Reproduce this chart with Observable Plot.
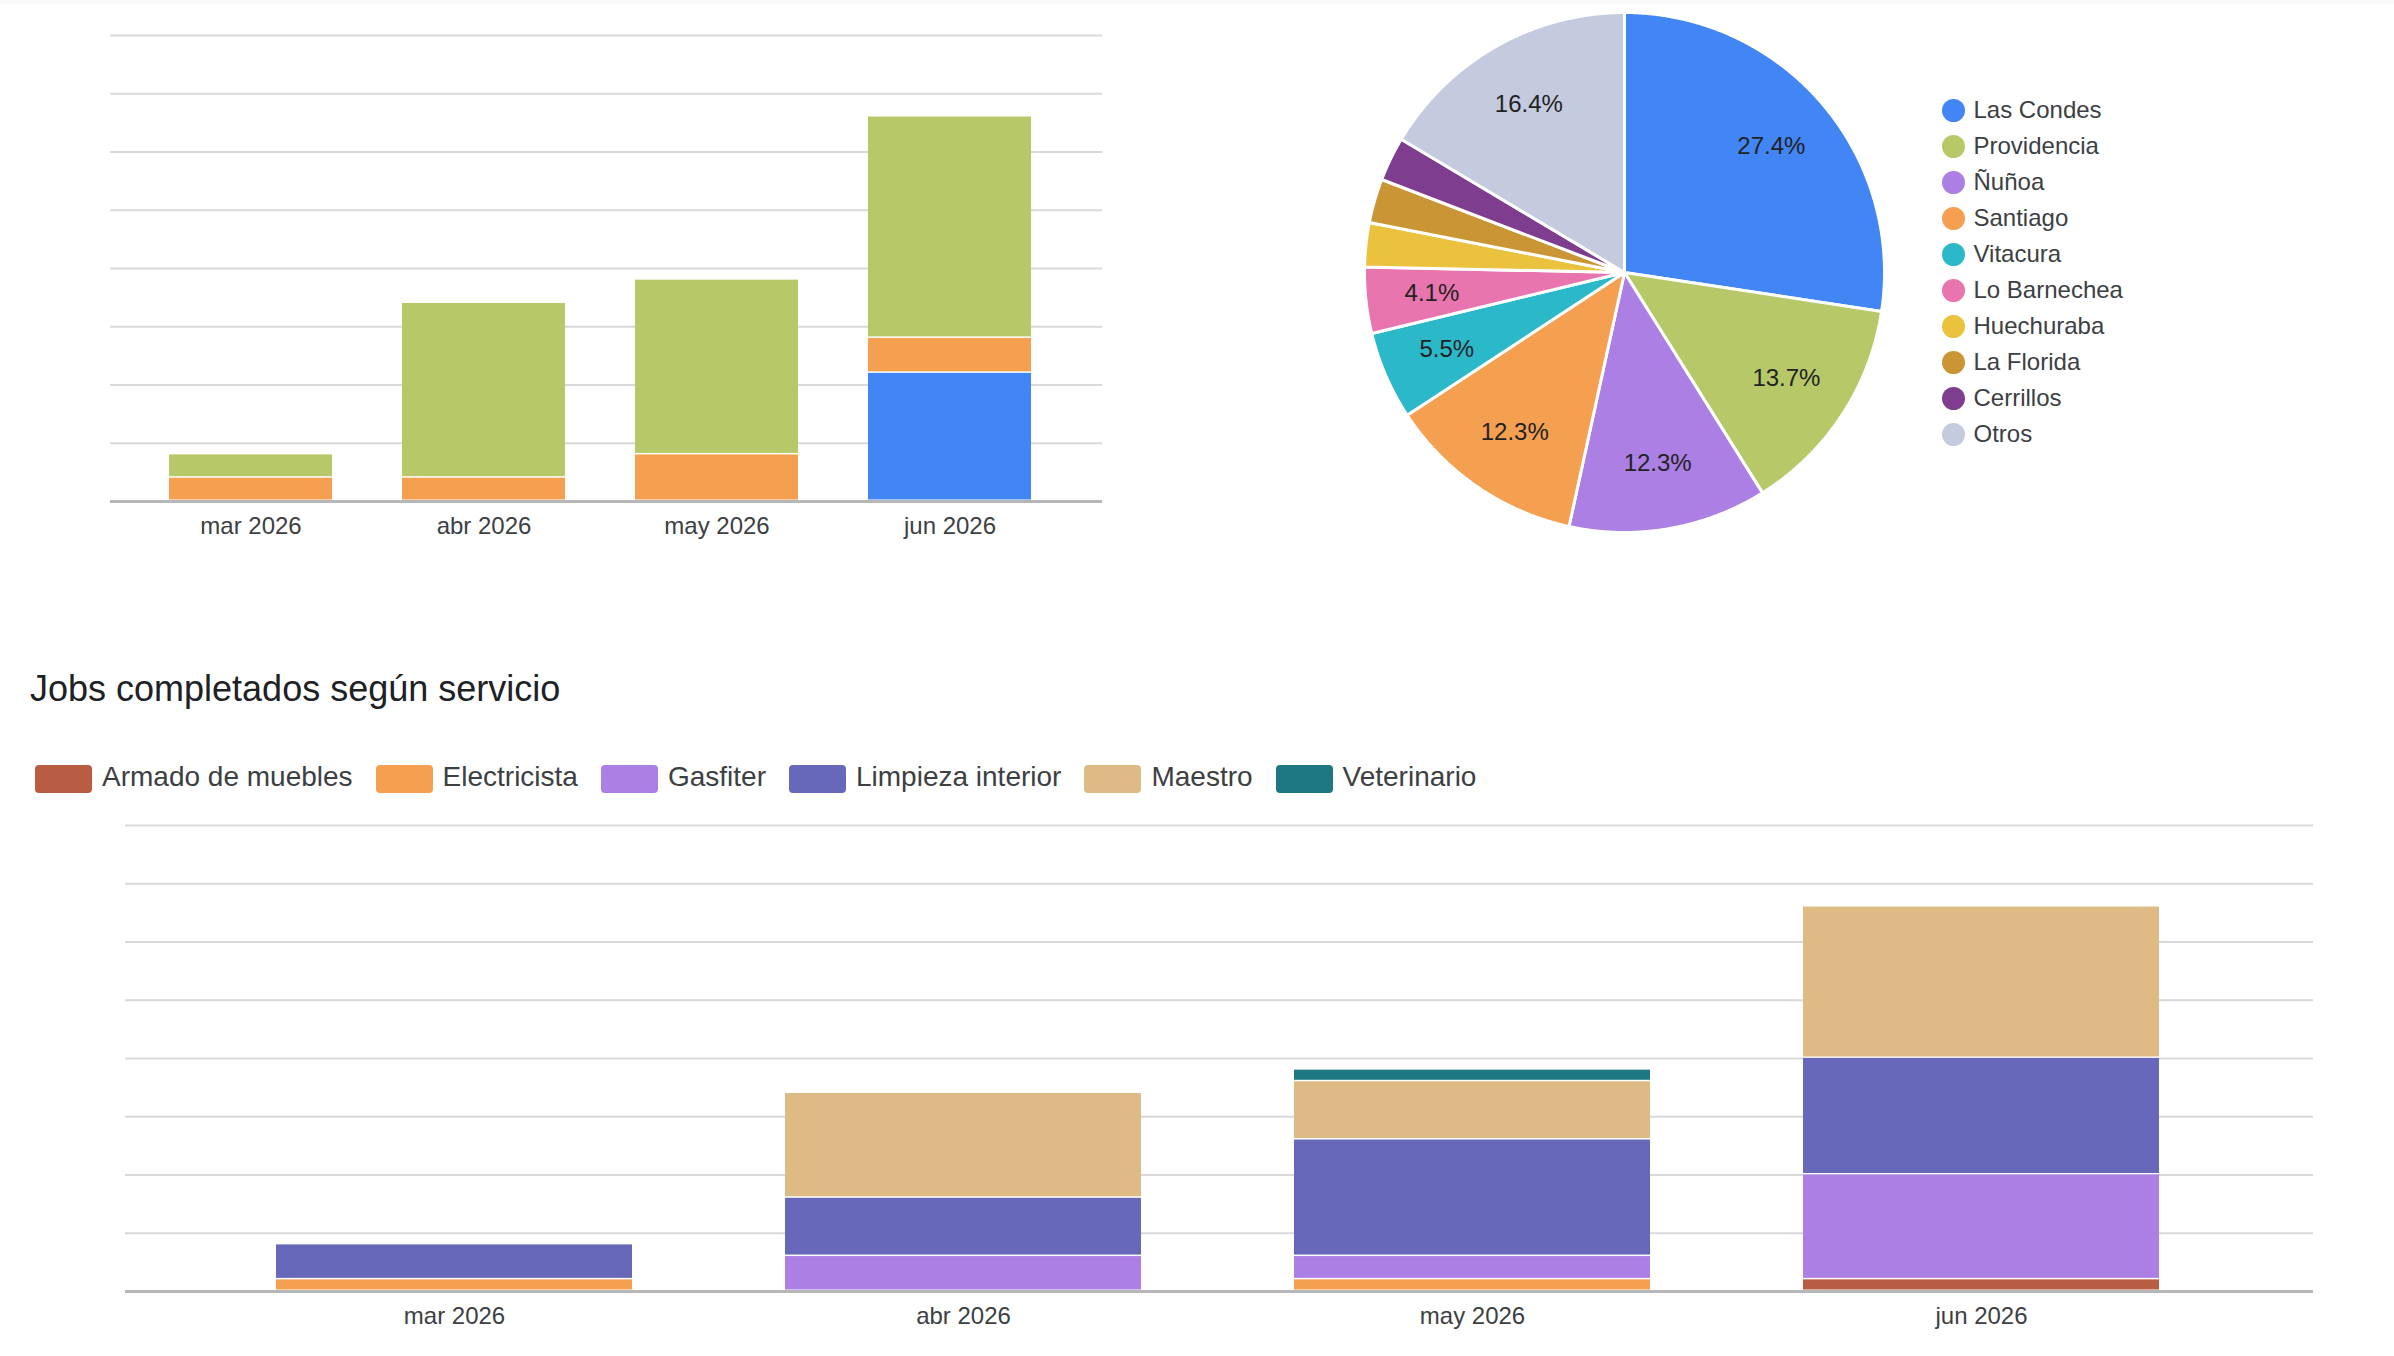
<!DOCTYPE html>
<html>
<head>
<meta charset="utf-8">
<script src="https://cdn.jsdelivr.net/npm/d3@7"></script>
<script src="https://cdn.jsdelivr.net/npm/@observablehq/plot@0.6"></script>
<style>
  html, body { margin: 0; padding: 0; background: #fff; }
  body { width: 2394px; height: 1356px; position: relative; overflow: hidden;
         font-family: "Liberation Sans", Arial, sans-serif; }
  #strip { position: absolute; left: 0; top: 0; width: 2394px; height: 4px; background: #f8f9fa; }
  .box { position: absolute; }
  .box svg { overflow: visible; }
  #title { position: absolute; left: 30px; top: 671px; font-size: 36px; line-height: 36px; color: #202124; white-space: nowrap; }
  #legend2 { position: absolute; left: 35px; top: 765px; }
  #legend2 .svc-swatches { margin: 0; min-height: 0; display: flex; flex-wrap: nowrap; align-items: flex-start; }
  #legend2 .svc-swatch { display: inline-flex; align-items: flex-start; margin-right: 23px; line-height: 24px; white-space: nowrap; }
  #legend2 .svc-swatch > svg { margin-right: 10px; }
  #legend2 .svc-swatch rect { rx: 4px; ry: 4px; }
</style>
</head>
<body>
<div id="strip"></div>
<div id="bars1" class="box" style="left:0;top:0"></div>
<div id="pie" class="box" style="left:1354px;top:2px"></div>
<div id="pieLegend" class="box" style="left:1941px;top:92px"></div>
<div id="title">Jobs completados según servicio</div>
<div id="legend2"></div>
<div id="bars2" class="box" style="left:0;top:800px"></div>
<script>
// ---- shared ----
const meses = ["mar 2026", "abr 2026", "may 2026", "jun 2026"];
const yTicks = [5, 10, 15, 20, 25, 30, 35, 40];
const yMax = 40;

// ---- top stacked bars ----
const topSeries = ["Grupo 1", "Grupo 2", "Grupo 3"];
const topColors = ["#4285F4", "#F4A050", "#B6C867"];
const grupo1 = [0, 0, 0, 11];
const grupo2 = [2, 2, 4, 3];
const grupo3 = [2, 15, 15, 19];

// ---- pie: jobs por comuna ----
const comunas = ["Las Condes", "Providencia", "Ñuñoa", "Santiago", "Vitacura",
                 "Lo Barnechea", "Huechuraba", "La Florida", "Cerrillos", "Otros"];
const comunaJobs = [20, 10, 9, 9, 4, 3, 2, 2, 2, 12];
const comunaColors = ["#4285F4", "#B6C867", "#AC7FE5", "#F4A050", "#2BB8C9",
                      "#E875AE", "#EAC23D", "#CA9535", "#7E3D8E", "#C5CBDF"];

// ---- bottom stacked bars: jobs completados según servicio ----
const servicios = ["Armado de muebles", "Electricista", "Gasfiter", "Limpieza interior", "Maestro", "Veterinario"];
const servicioColors = ["#B85C43", "#F4A050", "#AC7FE5", "#6868BA", "#DEBB84", "#1E7883"];
const armado = [0, 0, 0, 1];
const electricista = [1, 0, 1, 0];
const gasfiter = [0, 3, 2, 9];
const limpieza = [3, 5, 10, 10];
const maestro = [0, 9, 5, 13];
const veterinario = [0, 0, 1, 0];

const FONT = '"Liberation Sans", Arial, sans-serif';
const GRID = "#d9d9d9";
const BASE = "#b7b7b7";
const TEXT = "#3c4043";

function toRows(names, valueArrays) {
  const rows = [];
  names.forEach((s, i) => meses.forEach((m, j) => {
    const v = valueArrays[i][j];
    if (v > 0) rows.push({mes: m, serie: s, n: v});
  }));
  return rows;
}

function stackedBars({rows, names, colors, width, height, marginLeft, marginRight, marginTop, marginBottom, insetLeft, insetRight, tickPadding}) {
  return Plot.plot({
    width, height, marginLeft, marginRight, marginTop, marginBottom,
    style: {fontFamily: FONT, fontSize: "24px", color: TEXT, background: "transparent"},
    x: {type: "band", domain: meses, paddingInner: 0.3, paddingOuter: 0.15,
        insetLeft, insetRight, tickSize: 0, tickPadding, label: null},
    y: {domain: [0, yMax], axis: null},
    color: {domain: names, range: colors},
    marks: [
      Plot.ruleY(yTicks, {stroke: GRID, strokeWidth: 2}),
      Plot.barY(rows, {x: "mes", y: "n", fill: "serie", insetTop: 0, insetBottom: 1.5}),
      Plot.ruleY([0], {stroke: BASE, strokeWidth: 3})
    ]
  });
}

document.getElementById("bars1").append(stackedBars({
  rows: toRows(topSeries, [grupo1, grupo2, grupo3]),
  names: topSeries, colors: topColors,
  width: 1150, height: 560, marginLeft: 110, marginRight: 48, marginTop: 35, marginBottom: 59,
  insetLeft: 23.5, insetRight: 34.5, tickPadding: 15
}));

document.getElementById("bars2").append(stackedBars({
  rows: toRows(servicios, [armado, electricista, gasfiter, limpieza, maestro, veterinario]),
  names: servicios, colors: servicioColors,
  width: 2394, height: 556, marginLeft: 125, marginRight: 81, marginTop: 25, marginBottom: 65,
  insetLeft: 74, insetRight: 76, tickPadding: 15
}));

// ---- pie ----
const comunaRows = comunas.map((name, i) => ({name, n: comunaJobs[i]}));
const total = d3.sum(comunaJobs);
const arcs = d3.pie().sort(null).value(d => d.n)(comunaRows);
const slicePts = [];
const sliceLabels = [];
for (const a of arcs) {
  const name = a.data.name;
  slicePts.push({name, x: 0, y: 0});
  const steps = Math.max(2, Math.ceil((a.endAngle - a.startAngle) / 0.005));
  for (let k = 0; k <= steps; k++) {
    const t = a.startAngle + (a.endAngle - a.startAngle) * k / steps;
    slicePts.push({name, x: Math.sin(t), y: Math.cos(t)});
  }
  slicePts.push({name, x: 0, y: 0});
  const share = a.data.n / total;
  if (share >= 0.04) {
    const mid = (a.startAngle + a.endAngle) / 2;
    sliceLabels.push({x: 0.745 * Math.sin(mid), y: 0.745 * Math.cos(mid), label: d3.format(".1%")(share)});
  }
}

document.getElementById("pie").append(Plot.plot({
  width: 540, height: 540, marginLeft: 10, marginRight: 10, marginTop: 10, marginBottom: 10,
  style: {fontFamily: FONT, background: "transparent"},
  x: {domain: [-1, 1], axis: null},
  y: {domain: [-1, 1], axis: null},
  color: {domain: comunas, range: comunaColors},
  marks: [
    Plot.line(slicePts, {x: "x", y: "y", z: "name", fill: "name", stroke: "#fff", strokeWidth: 3, strokeLinejoin: "round"}),
    Plot.text(sliceLabels, {x: "x", y: "y", text: "label", fontSize: 24, fill: "#222"})
  ]
}));

// ---- pie legend ----
document.getElementById("pieLegend").append(Plot.plot({
  width: 320, height: 360, marginLeft: 0, marginRight: 0, marginTop: 0, marginBottom: 0,
  style: {fontFamily: FONT, fontSize: "24px", color: TEXT, background: "transparent"},
  x: {axis: null},
  y: {type: "band", domain: comunas, padding: 0, axis: null},
  color: {domain: comunas, range: comunaColors},
  marks: [
    Plot.dot(comunas, {y: d => d, fill: d => d, r: 11.5, frameAnchor: "left", dx: 12}),
    Plot.text(comunas, {y: d => d, text: d => d, frameAnchor: "left", dx: 32, textAnchor: "start", fontSize: 24, fill: TEXT})
  ]
}));

// ---- service legend ----
document.getElementById("legend2").append(Plot.legend({
  color: {domain: servicios, range: servicioColors},
  legend: "swatches", swatchWidth: 57, swatchHeight: 28, className: "svc",
  style: {fontFamily: FONT, fontSize: "28px", color: TEXT}
}));
</script>
</body>
</html>
